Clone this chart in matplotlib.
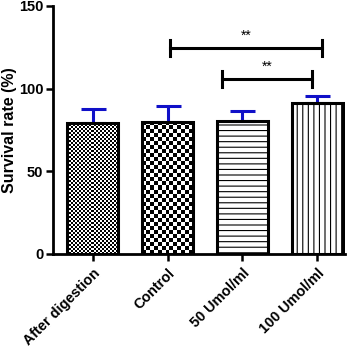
import numpy as np
import matplotlib
matplotlib.use('Agg')
import matplotlib.pyplot as plt

plt.rcParams['font.family'] = ['Liberation Sans', 'DejaVu Sans']
plt.rcParams['font.weight'] = 'bold'
plt.rcParams['hatch.linewidth'] = 0.8

groups = ['After digestion', 'Control', '50 Umol/ml', '100 Umol/ml']
survival = [79.4, 80.0, 80.6, 91.2]
sd = [8.3, 9.3, 5.7, 4.2]
sig_labels = ['**', '**']
sig_heights = [124.4, 105.8]

# bracket x ends (data units)
brackets = [(1.03, 3.06), (1.73, 2.93)]
blue = '#1010c8'

fig = plt.figure(figsize=(3.58, 3.46), dpi=100)
ax = fig.add_axes([0.148, 0.266, 0.816, 0.717])

x = np.arange(len(groups))
bars = ax.bar(x, survival, width=0.68, color='none', edgecolor='black',
              linewidth=2.2, zorder=3)
bars[2].set_hatch('---')
bars[3].set_hatch('|||')

# checkerboard fills for the first two bars
for b, (nx, ny) in zip(bars[:2], [(25, 66), (13, 33)]):
    board = (np.add.outer(np.arange(ny), np.arange(nx)) % 2).astype(float)
    im = ax.imshow(board, cmap='gray', interpolation='nearest', aspect='auto',
                   extent=(b.get_x(), b.get_x() + b.get_width(), 0, b.get_height()),
                   zorder=2)
    im.set_clip_path(b)

ax.errorbar(x, survival, yerr=[np.zeros(len(sd)), sd], fmt='none', ecolor=blue,
            elinewidth=2.2, capsize=9, capthick=2.2, zorder=1)

for (x0, x1), h, lab in zip(brackets, sig_heights, sig_labels):
    ax.plot([x0, x1], [h, h], color='black', lw=2.2, clip_on=False)
    ax.plot([x0, x0], [h - 5, h + 5], color='black', lw=2.2, clip_on=False)
    ax.plot([x1, x1], [h - 5, h + 5], color='black', lw=2.2, clip_on=False)
    ax.text((x0 + x1) / 2, h + 3, lab, ha='center', va='bottom', fontsize=10,
            fontweight='normal')

ax.set_xlim(-0.53, 3.37)
ax.set_ylim(0, 150)
ax.set_yticks([0, 50, 100, 150])
ax.set_xticks(x)
ax.set_xticklabels(groups, rotation=45, ha='right', rotation_mode='anchor',
                   fontsize=10.4, fontweight='bold')
ax.tick_params(axis='y', labelsize=10.5, width=1.8, length=5, pad=2)
ax.tick_params(axis='x', width=1.8, length=5)
ax.set_ylabel('Survival rate (%)', fontsize=11.5, fontweight='bold', labelpad=1)

for s in ['top', 'right']:
    ax.spines[s].set_visible(False)
for s in ['left', 'bottom']:
    ax.spines[s].set_linewidth(2)

fig.savefig('out.png', dpi=100)
